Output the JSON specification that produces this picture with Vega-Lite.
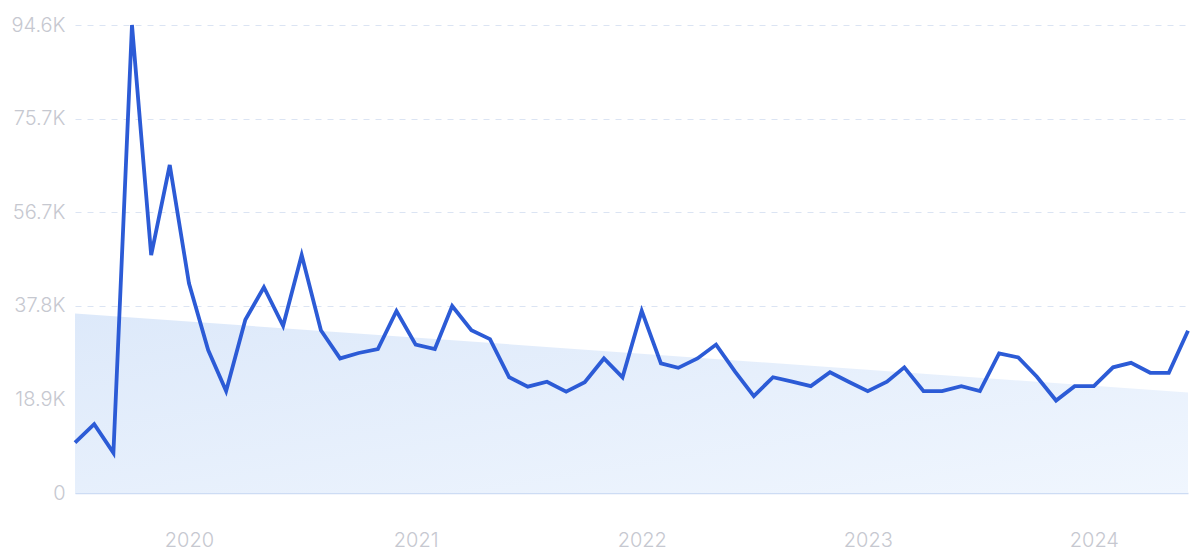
{
  "$schema": "https://vega.github.io/schema/vega-lite/v6.json",
  "autosize": {"type": "none"},
  "width": 1113,
  "height": 468,
  "padding": {"left": 75, "top": 25, "right": 12, "bottom": 67},
  "background": "#ffffff",
  "config": {"view": {"stroke": null}, "font": "Inter"},
  "datasets": {
    "series": [
      {"month": "2019-07-01", "value": 10200},
      {"month": "2019-08-01", "value": 13900},
      {"month": "2019-09-01", "value": 8100},
      {"month": "2019-10-01", "value": 94600},
      {"month": "2019-11-01", "value": 48100},
      {"month": "2019-12-01", "value": 66300},
      {"month": "2020-01-01", "value": 42400},
      {"month": "2020-02-01", "value": 28900},
      {"month": "2020-03-01", "value": 20600},
      {"month": "2020-04-01", "value": 35000},
      {"month": "2020-05-01", "value": 41600},
      {"month": "2020-06-01", "value": 33800},
      {"month": "2020-07-01", "value": 48100},
      {"month": "2020-08-01", "value": 32900},
      {"month": "2020-09-01", "value": 27200},
      {"month": "2020-10-01", "value": 28300},
      {"month": "2020-11-01", "value": 29100},
      {"month": "2020-12-01", "value": 36800},
      {"month": "2021-01-01", "value": 30000},
      {"month": "2021-02-01", "value": 29100},
      {"month": "2021-03-01", "value": 37800},
      {"month": "2021-04-01", "value": 32900},
      {"month": "2021-05-01", "value": 31100},
      {"month": "2021-06-01", "value": 23400},
      {"month": "2021-07-01", "value": 21500},
      {"month": "2021-08-01", "value": 22500},
      {"month": "2021-09-01", "value": 20500},
      {"month": "2021-10-01", "value": 22400},
      {"month": "2021-11-01", "value": 27200},
      {"month": "2021-12-01", "value": 23400},
      {"month": "2022-01-01", "value": 36800},
      {"month": "2022-02-01", "value": 26200},
      {"month": "2022-03-01", "value": 25300},
      {"month": "2022-04-01", "value": 27200},
      {"month": "2022-05-01", "value": 30000},
      {"month": "2022-06-01", "value": 24500},
      {"month": "2022-07-01", "value": 19600},
      {"month": "2022-08-01", "value": 23400},
      {"month": "2022-09-01", "value": 22500},
      {"month": "2022-10-01", "value": 21600},
      {"month": "2022-11-01", "value": 24400},
      {"month": "2022-12-01", "value": 22500},
      {"month": "2023-01-01", "value": 20600},
      {"month": "2023-02-01", "value": 22500},
      {"month": "2023-03-01", "value": 25400},
      {"month": "2023-04-01", "value": 20600},
      {"month": "2023-05-01", "value": 20600},
      {"month": "2023-06-01", "value": 21600},
      {"month": "2023-07-01", "value": 20600},
      {"month": "2023-08-01", "value": 28200},
      {"month": "2023-09-01", "value": 27400},
      {"month": "2023-10-01", "value": 23500},
      {"month": "2023-11-01", "value": 18700},
      {"month": "2023-12-01", "value": 21600},
      {"month": "2024-01-01", "value": 21600},
      {"month": "2024-02-01", "value": 25400},
      {"month": "2024-03-01", "value": 26300},
      {"month": "2024-04-01", "value": 24300},
      {"month": "2024-05-01", "value": 24300},
      {"month": "2024-06-01", "value": 32800}
    ],
    "trend": [
      {"month": "2019-07-01", "value": 36300},
      {"month": "2024-06-01", "value": 20300}
    ]
  },
  "layer": [
    {
      "data": {"name": "trend"},
      "mark": {
        "type": "area",
        "color": {
          "gradient": "linear",
          "x1": 0, "y1": 0, "x2": 1, "y2": 1,
          "stops": [
            {"offset": 0, "color": "#dde9fa"},
            {"offset": 1, "color": "#f0f6fe"}
          ]
        }
      },
      "encoding": {
        "x": {
          "field": "month", "type": "temporal",
          "scale": {"domain": ["2019-07-01", "2024-06-01"]},
          "axis": {
            "title": null,
            "format": "%Y",
            "tickCount": {"interval": "year", "step": 1},
            "grid": false,
            "ticks": false,
            "domain": true,
            "domainColor": "#cddcf4",
            "domainWidth": 1.5,
            "labelColor": "#c6c8d0",
            "labelFontSize": 20,
            "labelFontWeight": 300,
            "labelPadding": 37,
            "labelFont": "Inter"
          }
        },
        "y": {
          "field": "value", "type": "quantitative",
          "scale": {"domain": [0, 94600], "nice": false},
          "axis": {
            "title": null,
            "values": [0, 18900, 37800, 56700, 75700, 94600],
            "labelExpr": "datum.value == 0 ? '0' : format(datum.value / 1000, '.1f') + 'K'",
            "grid": true,
            "gridColor": "#dbe4f3",
            "gridDash": [6, 6],
            "gridWidth": 1,
            "domain": false,
            "ticks": false,
            "labelColor": "#c6c8d0",
            "labelFontSize": 20,
            "labelFontWeight": 300,
            "labelPadding": 10,
            "labelFont": "Inter"
          }
        }
      }
    },
    {
      "data": {"name": "series"},
      "mark": {"type": "line", "color": "#2c5bd6", "strokeWidth": 3.8, "strokeJoin": "miter"},
      "encoding": {
        "x": {"field": "month", "type": "temporal"},
        "y": {"field": "value", "type": "quantitative"}
      }
    }
  ]
}
